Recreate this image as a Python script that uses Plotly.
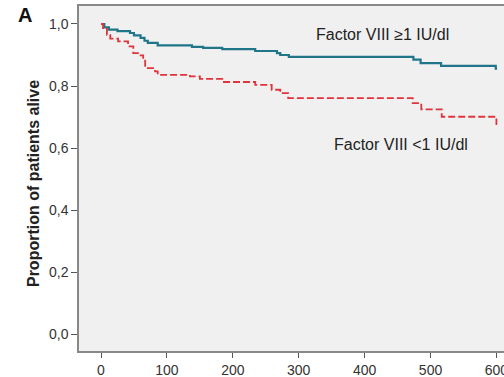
import plotly.graph_objects as go

# Kaplan-Meier step data (days, proportion alive)
high_days = [0, 5, 12, 25, 44, 50, 60, 66, 71, 86, 138, 155, 184, 234, 267, 272, 285, 474, 485, 516, 599, 601]
high_surv = [1.0, 0.989, 0.982, 0.977, 0.971, 0.963, 0.955, 0.946, 0.939, 0.931, 0.926, 0.923, 0.919, 0.913, 0.906, 0.900, 0.894, 0.885, 0.874, 0.865, 0.856, 0.856]

low_days = [0, 3, 9, 14, 26, 41, 49, 56, 64, 67, 82, 86, 135, 150, 184, 234, 259, 272, 284, 473, 486, 517, 600, 601]
low_surv = [1.0, 0.987, 0.965, 0.953, 0.944, 0.928, 0.906, 0.899, 0.885, 0.858, 0.847, 0.836, 0.831, 0.823, 0.813, 0.804, 0.788, 0.777, 0.761, 0.745, 0.725, 0.701, 0.677, 0.677]

y_tickvals = [0.0, 0.2, 0.4, 0.6, 0.8, 1.0]
y_ticktext = ["0,0", "0,2", "0,4", "0,6", "0,8", "1,0"]
x_tickvals = [0, 100, 200, 300, 400, 500, 600]

label_high = "Factor VIII \u22651 IU/dl"
label_low = "Factor VIII <1 IU/dl"
panel_label = "A"
y_title = "Proportion of patients alive"

fig = go.Figure()
fig.add_trace(go.Scatter(x=high_days, y=high_surv, mode="lines", line_shape="hv",
                         line=dict(color="#1f7689", width=2.2), name=label_high))
fig.add_trace(go.Scatter(x=low_days, y=low_surv, mode="lines", line_shape="hv",
                         line=dict(color="#e0333b", width=1.8, dash="7px,3px"), name=label_low))

font_family = "Liberation Sans, Arial, sans-serif"

fig.update_layout(
    width=504, height=377,
    margin=dict(l=79, r=0, t=6, b=26),
    paper_bgcolor="white",
    plot_bgcolor="#f0f0f0",
    showlegend=False,
    font=dict(family=font_family, color="#333333"),
    xaxis=dict(range=[-33.4, 611.5], tickvals=x_tickvals, ticks="outside", ticklen=5,
               tickcolor="#555555", showgrid=False, zeroline=False, showline=True,
               linecolor="#888888", linewidth=1.5, mirror=True, automargin=False,
               ticklabeloverflow="allow",
               tickfont=dict(size=14, color="#333333")),
    yaxis=dict(range=[-0.054, 1.058], tickvals=y_tickvals, ticktext=y_ticktext,
               ticks="outside", ticklen=6, tickcolor="#555555", showgrid=False,
               zeroline=False, showline=True, linecolor="#888888", linewidth=1.5,
               automargin=False, tickfont=dict(size=14, color="#333333")),
)

fig.add_annotation(text=y_title, xref="paper", yref="paper", x=-0.107, y=0.4855,
                   textangle=-90, showarrow=False, xanchor="center", yanchor="middle",
                   font=dict(size=16, color="#222222", family=font_family, weight="bold"))
fig.add_annotation(text="<b>" + panel_label + "</b>", xref="paper", yref="paper",
                   x=-0.126, y=0.974, showarrow=False, xanchor="center", yanchor="middle",
                   font=dict(size=20, color="#111111", family=font_family))
fig.add_annotation(text=label_high, x=427, y=0.965, showarrow=False,
                   font=dict(size=16, color="#222222", family=font_family))
fig.add_annotation(text=label_low, x=455, y=0.611, showarrow=False,
                   font=dict(size=16, color="#222222", family=font_family))

fig.write_html("out.html", config={"displayModeBar": False},
               post_script="document.body.style.margin='0';document.body.style.overflow='hidden';")
